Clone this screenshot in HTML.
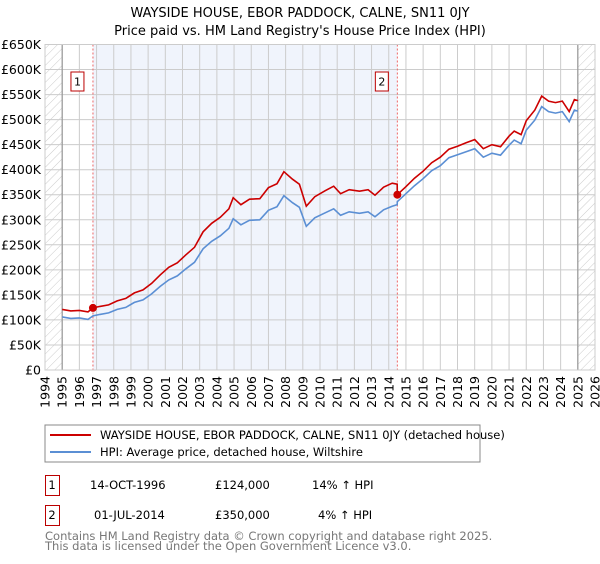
<!DOCTYPE html>
<html><head><meta charset="utf-8"><style>
body{margin:0;background:#fff;font-family:"DejaVu Sans","Liberation Sans",sans-serif;}
svg text{font-family:"DejaVu Sans","Liberation Sans",sans-serif;}
</style></head><body>
<svg id="c" width="600" height="560" xmlns="http://www.w3.org/2000/svg">
<defs><pattern id="hatch" width="6" height="6" patternUnits="userSpaceOnUse" patternTransform="rotate(45)"><line x1="0" y1="0" x2="0" y2="6" stroke="#ccc" stroke-width="1"/></pattern></defs>
<text x="300" y="17" text-anchor="middle" font-size="13">WAYSIDE HOUSE, EBOR PADDOCK, CALNE, SN11 0JY</text>
<text x="300" y="35" text-anchor="middle" font-size="13">Price paid vs. HM Land Registry's House Price Index (HPI)</text>
<g id="plot"></g>
<rect x="45" y="425" width="435" height="37" fill="#fff" stroke="#888"/>
<line x1="50" y1="435" x2="91" y2="435" stroke="#cc0000" stroke-width="2"/>
<text x="100" y="439" font-size="11.5">WAYSIDE HOUSE, EBOR PADDOCK, CALNE, SN11 0JY (detached house)</text>
<line x1="50" y1="452" x2="91" y2="452" stroke="#5b8fd4" stroke-width="2"/>
<text x="100" y="456" font-size="11.5">HPI: Average price, detached house, Wiltshire</text>
<g>
<rect x="45.5" y="475.5" width="14" height="20" fill="#fff" stroke="#b00"/>
<text x="52" y="489" text-anchor="middle" font-size="11.5">1</text>
<text x="90" y="489" font-size="11.5">14-OCT-1996</text>
<text x="215" y="489" font-size="11.5">£124,000</text>
<text x="312" y="489" font-size="11.5">14% ↑ HPI</text></g>
<g>
<rect x="45.5" y="505.5" width="14" height="20" fill="#fff" stroke="#b00"/>
<text x="52" y="519" text-anchor="middle" font-size="11.5">2</text>
<text x="94" y="519" font-size="11.5">01-JUL-2014</text>
<text x="215" y="519" font-size="11.5">£350,000</text>
<text x="318" y="519" font-size="11.5">4% ↑ HPI</text></g>
<text x="45" y="540" font-size="11.5" fill="#777">Contains HM Land Registry data © Crown copyright and database right 2025.</text>
<text x="45" y="550" font-size="11.5" fill="#777">This data is licensed under the Open Government Licence v3.0.</text>
</svg>
<script>
const years=[1995.0,1995.5,1996.0,1996.5,1996.79,1997.2,1997.7,1998.2,1998.7,1999.2,1999.7,2000.2,2000.7,2001.2,2001.7,2002.2,2002.7,2003.2,2003.7,2004.2,2004.7,2004.95,2005.4,2005.9,2006.5,2007.0,2007.5,2007.9,2008.4,2008.8,2009.2,2009.7,2010.3,2010.8,2011.2,2011.7,2012.3,2012.8,2013.2,2013.7,2014.2,2014.49,2014.5,2015.0,2015.5,2016.0,2016.5,2017.0,2017.5,2018.0,2018.5,2019.0,2019.5,2020.0,2020.5,2021.0,2021.3,2021.7,2022.0,2022.5,2022.9,2023.3,2023.7,2024.1,2024.5,2024.8,2025.0];
const hpi=[106,103,104,101,108,111,114,121,125,135,140,152,167,180,188,202,215,242,257,268,283,302,290,299,300,319,326,348,334,325,287,304,314,322,309,316,313,316,306,320,327,330,336,352,368,382,398,408,424,430,436,442,425,433,429,449,459,452,479,499,526,516,513,516,496,519,517];
const prop=[121,118,119,116,124,127,130,138,143,154,160,173,190,205,214,230,245,276,293,305,322,344,330,341,342,364,372,396,381,371,327,346,358,367,352,360,357,360,349,365,373,371,350,366,383,397,414,425,441,447,454,460,442,450,446,467,477,470,498,519,547,537,534,537,516,540,538];
const saleYears=[1996.79,2014.5];
const saleValues=[124,350];
const saleLabels=["1","2"];
const yTicks=[0,50,100,150,200,250,300,350,400,450,500,550,600,650];
const xTicks=[1994,1995,1996,1997,1998,1999,2000,2001,2002,2003,2004,2005,2006,2007,2008,2009,2010,2011,2012,2013,2014,2015,2016,2017,2018,2019,2020,2021,2022,2023,2024,2025,2026];
const X0=45,X1=595,Y0=370,Y1=44.5;
const xs=y=>X0+(y-1994)/(2026-1994)*(X1-X0);
const ys=v=>Y0-v/650*(Y0-Y1);
const NS="http://www.w3.org/2000/svg";
const g=document.getElementById('plot');
function mk(t,a){const e=document.createElementNS(NS,t);for(const k in a)e.setAttribute(k,a[k]);g.appendChild(e);return e;}
let e;
e=mk('rect',{x:X0,y:Y1,width:X1-X0,height:Y0-Y1,fill:'#fff'});


e=mk('rect',{x:xs(saleYears[0]),y:Y1,width:xs(saleYears[1])-xs(saleYears[0]),height:Y0-Y1,fill:'#f0f4fc'});


e=mk('rect',{x:X0,y:Y1,width:xs(1995)-X0,height:Y0-Y1,fill:'url(#hatch)'});


e=mk('rect',{x:xs(2025),y:Y1,width:X1-xs(2025),height:Y0-Y1,fill:'url(#hatch)'});


yTicks.forEach(v=>{
 e=mk('line',{x1:X0,x2:X1,y1:ys(v),y2:ys(v),stroke:'#ccc','stroke-width':1});
 
 
 e=mk('text',{x:41,y:ys(v)+4.5,'text-anchor':'end','font-size':12.5});
 e.textContent=v===0?'£0':'£'+v+'K';
 
 
});
xTicks.forEach(y=>{
 e=mk('line',{x1:xs(y),x2:xs(y),y1:Y1,y2:Y0,stroke:'#ccc','stroke-width':1});
 
 
 e=mk('text',{x:0,y:0,'text-anchor':'end','font-size':12.5,transform:`translate(${xs(y)+4.5},${Y0+6}) rotate(-90)`});
 e.textContent=y;
 
 
});
[1995,2025].forEach(y=>{
 e=mk('line',{x1:xs(y),x2:xs(y),y1:Y1,y2:Y0,stroke:'#999','stroke-width':1.2});
 
 
});
saleYears.forEach((y,i)=>{
 e=mk('line',{x1:xs(y),x2:xs(y),y1:Y1,y2:Y0,stroke:'#e66','stroke-width':1,'stroke-dasharray':'2,2'});
 
 
 e=mk('rect',{x:xs(y)-22,y:72,width:13,height:19,fill:'#fff',stroke:'#b00'});
 
 
 e=mk('text',{x:xs(y)-15.5,y:85.5,'text-anchor':'middle','font-size':11});
 e.textContent=saleLabels[i];
 
 
});
const path=arr=>arr.map((v,i)=>(i?'L':'M')+xs(years[i]).toFixed(1)+','+ys(v).toFixed(1)).join('');
e=mk('path',{d:path(hpi),fill:'none',stroke:'#5b8fd4','stroke-width':1.6});


e=mk('path',{d:path(prop),fill:'none',stroke:'#cc0000','stroke-width':1.6});


saleYears.forEach((y,i)=>{
 e=mk('circle',{cx:xs(y),cy:ys(saleValues[i]),r:4,fill:'#cc0000'});
 
 
});
e=mk('rect',{x:X0,y:Y1,width:X1-X0,height:Y0-Y1,fill:'none',stroke:'#ccc'});


</script>
</body></html>
